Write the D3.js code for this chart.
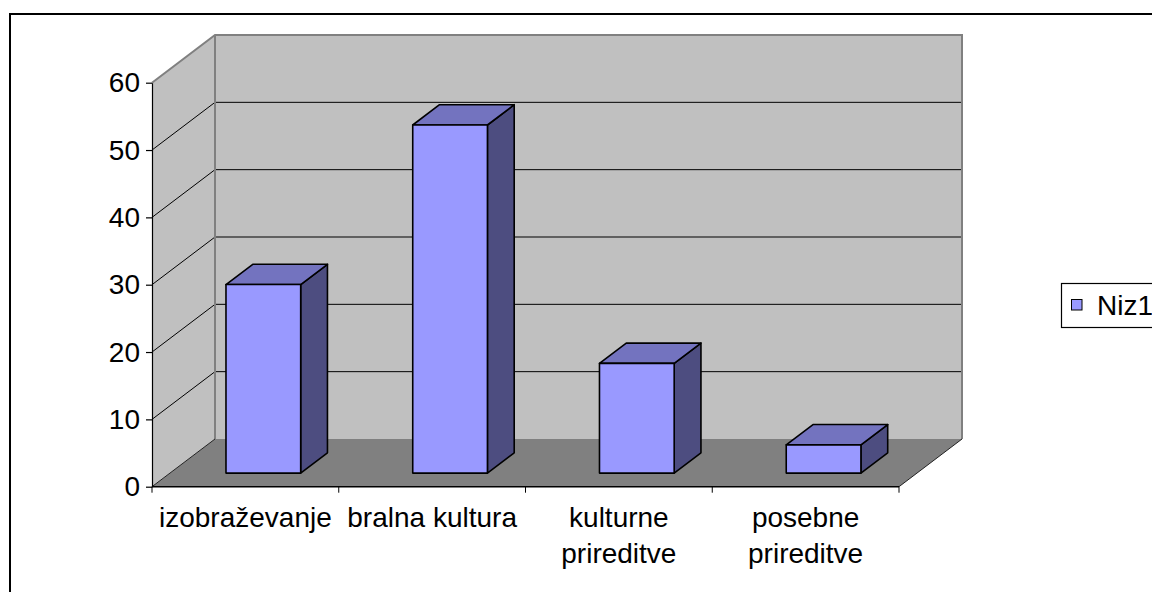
<!DOCTYPE html>
<html>
<head>
<meta charset="utf-8">
<script src="https://cdn.jsdelivr.net/npm/d3@7"></script>
<style>
  html, body { margin: 0; padding: 0; background: #fff; }
  svg { display: block; }
  text { font-family: "Liberation Sans", Arial, sans-serif; fill: #000; }
</style>
</head>
<body>
<svg id="chart" width="1152" height="592"></svg>
<script>
// ---- data ----
const categories = ["izobraževanje", "bralna kultura", "kulturne prireditve", "posebne prireditve"];
const categoryLabelLines = [["izobraževanje"], ["bralna kultura"], ["kulturne", "prireditve"], ["posebne", "prireditve"]];
const seriesName = "Niz1";
const seriesValues = [28, 51.7, 16.3, 4.2];
const yTicks = [0, 10, 20, 30, 40, 50, 60];

// ---- layout ----
const W = 1152, H = 592;
const frontLeft = 152, frontRight = 899;
const yBottom = 486.7, yTop = 82.7;
const depthDX = 63, depthDY = 47.7;   // 3D depth offset of the back wall
const barFront = 0.285, barBack = 0.71; // bar position along depth (fraction)
const fontSize = 28;

const colors = {
  wall: "#c0c0c0", floor: "#808080", edge: "#808080",
  barFront: "#9999ff", barTop: "#7373bf", barSide: "#4d4d80"
};

const svg = d3.select("#chart");

const y = d3.scaleLinear().domain([0, 60]).range([yBottom, yTop]);
const xCat = d3.scaleBand().domain(categories).range([frontLeft, frontRight]).padding(0);
const xBar = d3.scaleBand().domain(categories).range([frontLeft, frontRight])
  .paddingInner(0.6).paddingOuter(0.3);

const pt = (x, yy, f) => [x + depthDX * f, yy - depthDY * f];
const poly = pts => "M" + pts.map(p => p.join(",")).join("L") + "Z";

// outer border
svg.append("rect").attr("x", 10).attr("y", 14).attr("width", W).attr("height", H)
  .attr("fill", "#fff").attr("stroke", "#000").attr("stroke-width", 2);

const y0 = y(0), y60 = y(60);

// left side wall
svg.append("path")
  .attr("d", poly([[frontLeft, y60], pt(frontLeft, y60, 1), pt(frontLeft, y0, 1), [frontLeft, y0]]))
  .attr("fill", colors.wall);
// back wall
svg.append("path")
  .attr("d", poly([pt(frontLeft, y60, 1), pt(frontRight, y60, 1), pt(frontRight, y0, 1), pt(frontLeft, y0, 1)]))
  .attr("fill", colors.wall);
// floor
svg.append("path")
  .attr("d", poly([[frontLeft, y0], [frontRight, y0], pt(frontRight, y0, 1), pt(frontLeft, y0, 1)]))
  .attr("fill", colors.floor);

// gridlines
const grid = svg.append("g");
yTicks.filter(t => t > 0 && t < 60).forEach(t => {
  const a = [frontLeft, y(t)], b = pt(frontLeft, y(t), 1), c = pt(frontRight, y(t), 1);
  grid.append("path").attr("d", "M" + a + "L" + b + "L" + c)
    .attr("fill", "none").attr("stroke", "#000").attr("stroke-width", 1);
});

// wall edges
const edges = svg.append("g").attr("fill", "none");
edges.append("path")
  .attr("d", "M" + [frontLeft, y60] + "L" + pt(frontLeft, y60, 1) + "L" + pt(frontRight, y60, 1) + "L" + pt(frontRight, y0, 1))
  .attr("stroke", colors.edge).attr("stroke-width", 2);
edges.append("path")
  .attr("d", "M" + pt(frontLeft, y60, 1) + "L" + pt(frontLeft, y0, 1))
  .attr("stroke", colors.edge).attr("stroke-width", 2);
edges.append("path")
  .attr("d", "M" + [frontLeft, y0] + "L" + pt(frontLeft, y0, 1))
  .attr("stroke", "#222").attr("stroke-width", 1);
edges.append("path")
  .attr("d", "M" + [frontRight, y0] + "L" + pt(frontRight, y0, 1))
  .attr("stroke", "#222").attr("stroke-width", 1);

// y axis
const yAxis = svg.append("g").attr("transform", `translate(${frontLeft},0)`)
  .call(d3.axisLeft(y).tickValues(yTicks).tickSize(6).tickSizeOuter(0).tickPadding(6));
yAxis.selectAll("path, line").attr("stroke", "#000").attr("stroke-width", 1.2);
yAxis.selectAll("text").attr("font-size", fontSize).attr("font-family", '"Liberation Sans", Arial, sans-serif');

// x axis line and ticks
const xAxis = svg.append("g");
xAxis.append("line").attr("x1", frontLeft).attr("x2", frontRight).attr("y1", y0).attr("y2", y0)
  .attr("stroke", "#000").attr("stroke-width", 1.5);
const tickXs = categories.map(c => xCat(c)).concat([frontRight]);
tickXs.forEach(tx => {
  xAxis.append("line").attr("x1", tx).attr("x2", tx).attr("y1", y0).attr("y2", y0 + 6)
    .attr("stroke", "#000").attr("stroke-width", 1);
});
categories.forEach((c, i) => {
  const t = xAxis.append("text").attr("text-anchor", "middle").attr("font-size", fontSize)
    .attr("x", xCat(c) + xCat.bandwidth() / 2).attr("y", 527);
  categoryLabelLines[i].forEach((line, j) => {
    t.append("tspan").attr("x", xCat(c) + xCat.bandwidth() / 2).attr("dy", j === 0 ? 0 : 36).text(line);
  });
});

// bars
const bars = svg.append("g").attr("stroke", "#000").attr("stroke-width", 1.6).attr("stroke-linejoin", "round");
categories.forEach((c, i) => {
  const v = seriesValues[i];
  const x0 = xBar(c), x1 = xBar(c) + xBar.bandwidth();
  const fb = pt(x0, y(0), barFront), fbr = pt(x1, y(0), barFront);
  const ft = pt(x0, y(v), barFront), ftr = pt(x1, y(v), barFront);
  const bt = pt(x0, y(v), barBack), btr = pt(x1, y(v), barBack);
  const bbr = pt(x1, y(0), barBack);
  bars.append("path").attr("d", poly([ftr, btr, bbr, fbr])).attr("fill", colors.barSide);
  bars.append("path").attr("d", poly([ft, ftr, btr, bt])).attr("fill", colors.barTop);
  bars.append("path").attr("d", poly([ft, ftr, fbr, fb])).attr("fill", colors.barFront);
});

// legend
const lg = svg.append("g");
lg.append("rect").attr("x", 1061.5).attr("y", 283.5).attr("width", 120).attr("height", 44)
  .attr("fill", "#fff").attr("stroke", "#000").attr("stroke-width", 1.2);
lg.append("rect").attr("x", 1071.5).attr("y", 299.5).attr("width", 10.5).attr("height", 10.5)
  .attr("fill", colors.barFront).attr("stroke", "#000").attr("stroke-width", 1);
lg.append("text").attr("x", 1097).attr("y", 315).attr("font-size", fontSize).text(seriesName);
</script>
</body>
</html>
